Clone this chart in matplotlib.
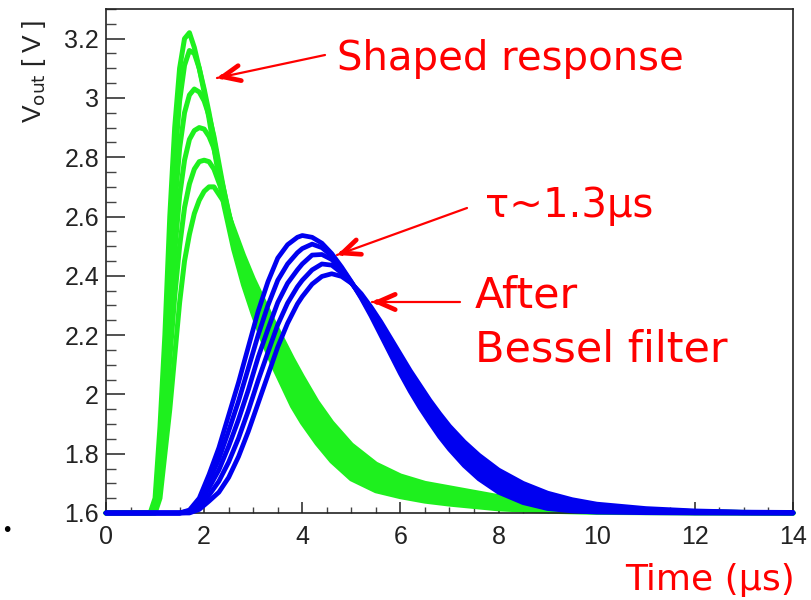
import matplotlib
matplotlib.use("Agg")
import matplotlib.pyplot as plt
from matplotlib.ticker import MultipleLocator, FuncFormatter

# time grid of the shaped (green) pulses, in us
t_shaped = [0, 0.9, 1.0, 1.1, 1.2, 1.3, 1.4, 1.5, 1.6, 1.7, 1.8, 1.9, 2.0, 2.1, 2.2,
            2.4, 2.6, 2.8, 3.0, 3.2, 3.4, 3.6, 3.8, 4.0, 4.3, 4.6, 5.0, 5.5, 6.0,
            6.5, 7.0, 8.0, 9.0, 10, 11, 12, 14]
shaped_1 = [1.6, 1.6, 1.65, 1.89, 2.2, 2.6, 2.9, 3.1, 3.2, 3.22, 3.17, 3.10, 3.02, 2.93, 2.83,
            2.64, 2.49, 2.37, 2.27, 2.18, 2.10, 2.03, 1.96, 1.905, 1.835, 1.775, 1.715, 1.675, 1.655,
            1.64, 1.63, 1.614, 1.606, 1.602, 1.601, 1.6, 1.6]
shaped_2 = [1.6, 1.6, 1.62, 1.84, 2.12, 2.48, 2.78, 2.99, 3.11, 3.16, 3.15, 3.10, 3.03, 2.95, 2.86,
            2.665, 2.51, 2.39, 2.295, 2.21, 2.13, 2.06, 1.99, 1.935, 1.862, 1.80, 1.738, 1.693, 1.67,
            1.652, 1.641, 1.622, 1.612, 1.606, 1.603, 1.601, 1.6]
shaped_3 = [1.6, 1.6, 1.61, 1.79, 2.05, 2.36, 2.63, 2.83, 2.95, 3.01, 3.03, 3.02, 2.99, 2.94, 2.87,
            2.69, 2.525, 2.41, 2.32, 2.24, 2.16, 2.09, 2.025, 1.965, 1.89, 1.825, 1.76, 1.712, 1.684,
            1.665, 1.652, 1.631, 1.619, 1.61, 1.605, 1.602, 1.6]
shaped_4 = [1.6, 1.6, 1.605, 1.74, 1.97, 2.24, 2.48, 2.67, 2.79, 2.86, 2.89, 2.90, 2.895, 2.87, 2.83,
            2.69, 2.54, 2.43, 2.345, 2.27, 2.195, 2.125, 2.06, 2.0, 1.92, 1.85, 1.785, 1.73, 1.698,
            1.677, 1.663, 1.64, 1.625, 1.614, 1.607, 1.603, 1.6]
shaped_5 = [1.6, 1.6, 1.6, 1.70, 1.89, 2.12, 2.33, 2.5, 2.63, 2.71, 2.76, 2.785, 2.79, 2.785, 2.76,
            2.67, 2.55, 2.45, 2.37, 2.295, 2.225, 2.155, 2.09, 2.03, 1.948, 1.878, 1.808, 1.748, 1.712,
            1.688, 1.674, 1.648, 1.63, 1.617, 1.608, 1.603, 1.6]
shaped_6 = [1.6, 1.6, 1.6, 1.65, 1.8, 1.95, 2.13, 2.31, 2.45, 2.54, 2.61, 2.655, 2.685, 2.70, 2.70,
            2.65, 2.56, 2.47, 2.39, 2.32, 2.25, 2.185, 2.12, 2.06, 1.975, 1.905, 1.83, 1.765, 1.725,
            1.70, 1.685, 1.655, 1.635, 1.62, 1.61, 1.604, 1.6]

# time grid of the pulses after the Bessel filter (blue)
t_bessel = [0, 1.5, 1.7, 1.9, 2.1, 2.3, 2.5, 2.7, 2.9, 3.1, 3.3, 3.5, 3.7, 3.9,
            4.0, 4.2, 4.4, 4.6, 4.8, 5.0, 5.2, 5.4, 5.6, 5.8, 6.0, 6.2, 6.4, 6.6, 6.8,
            7.0, 7.3, 7.6, 8.0, 8.5, 9.0, 9.5, 10, 11, 12, 13, 14]
bessel_1 = [1.6, 1.6, 1.61, 1.65, 1.73, 1.82, 1.93, 2.04, 2.16, 2.28, 2.38, 2.46, 2.505, 2.53,
            2.536, 2.53, 2.51, 2.475, 2.43, 2.38, 2.325, 2.265, 2.2, 2.135, 2.07, 2.01, 1.955, 1.905, 1.857,
            1.815, 1.76, 1.715, 1.67, 1.635, 1.615, 1.607, 1.603, 1.601, 1.6, 1.6, 1.6]
bessel_2 = [1.6, 1.6, 1.607, 1.64, 1.707, 1.782, 1.877, 1.977, 2.088, 2.2, 2.3, 2.385, 2.44, 2.478,
            2.492, 2.507, 2.495, 2.467, 2.425, 2.378, 2.328, 2.272, 2.21, 2.148, 2.085, 2.027, 1.972, 1.922, 1.876,
            1.834, 1.78, 1.735, 1.688, 1.65, 1.627, 1.615, 1.608, 1.604, 1.601, 1.6, 1.6]
bessel_3 = [1.6, 1.6, 1.605, 1.63, 1.685, 1.745, 1.825, 1.915, 2.015, 2.125, 2.22, 2.31, 2.375, 2.42,
            2.44, 2.47, 2.472, 2.455, 2.42, 2.377, 2.332, 2.28, 2.222, 2.162, 2.1, 2.045, 1.99, 1.94, 1.895,
            1.853, 1.8, 1.755, 1.705, 1.665, 1.64, 1.625, 1.614, 1.607, 1.603, 1.601, 1.6]
bessel_4 = [1.6, 1.6, 1.602, 1.62, 1.66, 1.707, 1.772, 1.852, 1.945, 2.047, 2.142, 2.235, 2.308, 2.363,
            2.385, 2.42, 2.44, 2.436, 2.41, 2.376, 2.336, 2.288, 2.234, 2.176, 2.118, 2.062, 2.01, 1.96, 1.915,
            1.874, 1.82, 1.775, 1.725, 1.68, 1.65, 1.632, 1.62, 1.611, 1.605, 1.602, 1.601]
bessel_5 = [1.6, 1.6, 1.6, 1.612, 1.64, 1.67, 1.72, 1.79, 1.875, 1.97, 2.065, 2.16, 2.24, 2.305,
            2.33, 2.372, 2.398, 2.407, 2.398, 2.375, 2.34, 2.295, 2.245, 2.19, 2.135, 2.08, 2.03, 1.98, 1.935,
            1.893, 1.84, 1.795, 1.745, 1.7, 1.667, 1.645, 1.63, 1.615, 1.607, 1.603, 1.602]

shaped = [shaped_1, shaped_2, shaped_3, shaped_4, shaped_5, shaped_6]
bessel = [bessel_1, bessel_2, bessel_3, bessel_4, bessel_5]

W, H = 812, 600
green = '#1ef01e'
blue = '#0000f0'
fig = plt.figure(figsize=(W / 100, H / 100), dpi=100)
ax = fig.add_axes([106 / W, 87 / H, (793 - 106) / W, (513 - 9) / H])

for v in shaped:
    ax.plot(t_shaped, v, color=green, lw=3.6, solid_joinstyle='round',
            solid_capstyle='round', clip_on=False, zorder=2)
# on the tails the many traces merge into one solid band
i0 = t_shaped.index(2.6)
ax.fill_between(t_shaped[i0:], shaped_1[i0:], shaped_6[i0:], color=green, lw=0, zorder=2)
for v in bessel:
    ax.plot(t_bessel, v, color=blue, lw=3.4, solid_joinstyle='round',
            solid_capstyle='round', clip_on=False, zorder=3)
j0 = t_bessel.index(5.2)
ax.fill_between(t_bessel[j0:], bessel_1[j0:], bessel_5[j0:], color=blue, lw=0, zorder=3)

ax.set_xlim(0, 14)
ax.set_ylim(1.6, 3.3)
ax.xaxis.set_major_locator(MultipleLocator(2))
ax.xaxis.set_minor_locator(MultipleLocator(0.5))
ax.yaxis.set_major_locator(MultipleLocator(0.2))
ax.yaxis.set_minor_locator(MultipleLocator(0.05))
fmt = FuncFormatter(lambda v, p: '%g' % round(v, 2))
ax.xaxis.set_major_formatter(fmt)
ax.yaxis.set_major_formatter(fmt)

for s in ax.spines.values():
    s.set_linewidth(1.2)
    s.set_color('#222222')
ax.tick_params(axis='x', which='major', direction='in', length=8, width=1.1,
               labelsize=18, pad=9, colors='#222222')
ax.tick_params(axis='x', which='minor', direction='in', length=4, width=1.0, colors='#444444')
ax.tick_params(axis='y', which='major', direction='in', length=14, width=1.1,
               labelsize=18, pad=5, colors='#222222')
ax.tick_params(axis='y', which='minor', direction='in', length=7, width=1.0, colors='#444444')
for lab in ax.get_xticklabels() + ax.get_yticklabels():
    lab.set_family(['Liberation Sans', 'DejaVu Sans'])

fig.text(34 / W, 1 - 20 / H, r'V$_{\rm out}$ [ V ]', rotation=90, ha='center', va='top',
         fontsize=19, color='#222222', family=['Liberation Sans', 'DejaVu Sans'])

red = '#ff0000'
afont = ['DejaVu Sans']
fig.text(337 / W, 1 - 70 / H, 'Shaped response', color=red, fontsize=29, family=afont, va='baseline')
fig.text(485 / W, 1 - 217 / H, 'τ~1.3µs', color=red, fontsize=29, family=afont, va='baseline')
fig.text(475 / W, 1 - 308 / H, 'After', color=red, fontsize=31, family=afont, va='baseline')
fig.text(475 / W, 1 - 362 / H, 'Bessel filter', color=red, fontsize=31, family=afont, va='baseline')
fig.text(795 / W, 1 - 590 / H, 'Time (µs)', color=red, fontsize=26, family=afont,
         va='baseline', ha='right')
fig.text(7 / W, 1 - 530 / H, '•', color='black', fontsize=14, ha='center', va='center')

arrows = [((325, 55), (217, 78)), ((467, 208), (337, 255)), ((460, 302), (372, 302))]
for (x0, y0), (x1, y1) in arrows:
    ax.annotate('', xy=(x1, H - y1), xytext=(x0, H - y0), xycoords='figure pixels',
                textcoords='figure pixels',
                arrowprops=dict(arrowstyle='-', color=red, lw=1.6, shrinkA=0, shrinkB=0))
    dx, dy = x1 - x0, y1 - y0
    n = (dx * dx + dy * dy) ** 0.5
    ax.annotate('', xy=(x1, H - y1), xytext=(x1 - 6 * dx / n, H - (y1 - 6 * dy / n)),
                xycoords='figure pixels', textcoords='figure pixels',
                arrowprops=dict(arrowstyle='->, head_length=1.25, head_width=0.55', color=red,
                                lw=3.4, shrinkA=0, shrinkB=0, capstyle='round', joinstyle='round'))

fig.savefig('out.png', dpi=100)
